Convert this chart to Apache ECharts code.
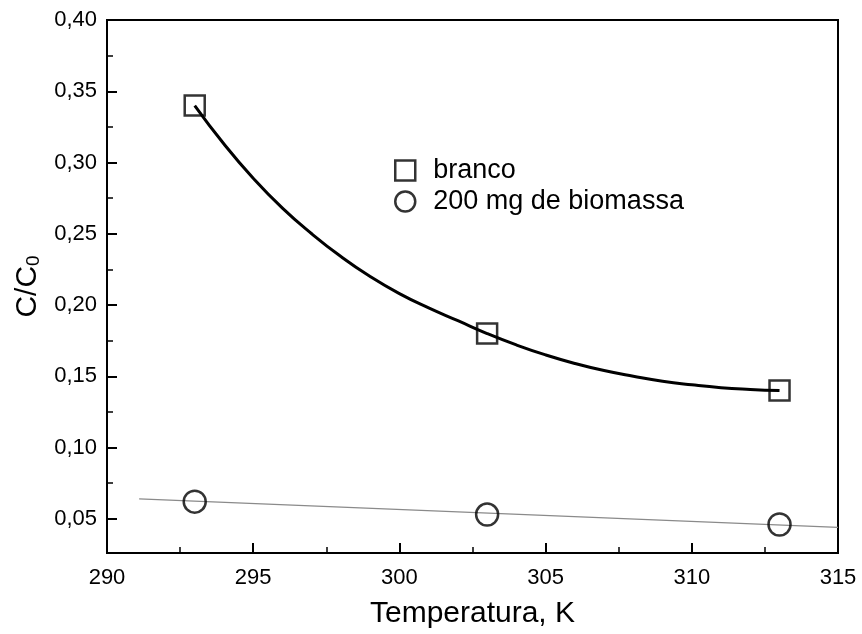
<!DOCTYPE html>
<html>
<head>
<meta charset="utf-8">
<script src="https://cdn.jsdelivr.net/npm/echarts@6/dist/echarts.min.js"></script>
<style>
html,body{margin:0;padding:0;background:#fff;}
#chart{width:862px;height:634px;}
</style>
</head>
<body>
<div id="chart"></div>
<script>
// Data
const temperatures = [293, 303, 313];
const brancoValues = [0.340, 0.180, 0.140];
const biomassaValues = [0.062, 0.053, 0.046];

// fitted curve for "branco"
const brancoFitX = [293, 294, 295, 296, 297, 298, 299, 300, 301, 302, 303, 304, 305, 306, 307, 308, 309, 310, 311, 312, 313];
const brancoFitY = [0.340, 0.313, 0.289, 0.268, 0.250, 0.234, 0.220, 0.208, 0.198, 0.189, 0.180, 0.172, 0.165, 0.159, 0.154, 0.150, 0.1465, 0.1440, 0.1420, 0.1408, 0.140];

// straight fit for biomassa
const biomassaFitX = [291.1, 315];
const biomassaFitY = [0.064, 0.044];

const yTickValues = [0.05, 0.10, 0.15, 0.20, 0.25, 0.30, 0.35, 0.40];
const yMinorTickValues = [0.075, 0.125, 0.175, 0.225, 0.275, 0.325, 0.375];

const seriesNames = ['branco', '200 mg de biomassa'];

const pairs = (xs, ys) => xs.map((x, i) => [x, ys[i]]);

const chart = echarts.init(document.getElementById('chart'));
const FONT = 'Liberation Sans, Arial, sans-serif';

chart.setOption({
  animation: false,
  backgroundColor: '#fff',
  textStyle: { fontFamily: FONT, color: '#000' },
  grid: { left: 107, right: 24, top: 20, bottom: 81, show: true, borderColor: '#000', borderWidth: 2 },
  legend: {
    orient: 'vertical',
    left: 389,
    top: 152,
    itemWidth: 20,
    itemHeight: 20,
    itemGap: 4,
    textStyle: { fontSize: 27, color: '#000', fontFamily: FONT, padding: [0, 0, 0, 13] },
    data: [
      { name: seriesNames[0], icon: 'rect', itemStyle: { color: 'transparent', borderColor: '#000', borderWidth: 2.5 } },
      { name: seriesNames[1], icon: 'circle', itemStyle: { color: 'transparent', borderColor: '#000', borderWidth: 2.5 } }
    ]
  },
  xAxis: {
    type: 'value',
    min: 290, max: 315, interval: 5,
    name: 'Temperatura, K',
    nameLocation: 'middle',
    nameGap: 46,
    nameTextStyle: { fontSize: 30, color: '#000', fontFamily: FONT },
    axisLine: { show: true, onZero: false, lineStyle: { color: '#000', width: 2 } },
    axisTick: { show: true, inside: true, length: 10, lineStyle: { color: '#000', width: 2 } },
    minorTick: { show: true, splitNumber: 2, length: 6, lineStyle: { color: '#000', width: 1.5 } },
    axisLabel: { fontSize: 22, color: '#000', margin: 14, fontFamily: FONT },
    splitLine: { show: false }
  },
  yAxis: [
    {
      type: 'value',
      min: 0.026, max: 0.40,
      name: 'C/C{sub|0}',
      nameLocation: 'middle',
      nameGap: 60,
      nameTextStyle: {
        fontSize: 30, color: '#000', fontFamily: FONT,
        rich: { sub: { fontSize: 19, verticalAlign: 'bottom', padding: [12, 0, 0, 0], fontFamily: FONT } }
      },
      axisLine: { show: true, onZero: false, lineStyle: { color: '#000', width: 2 } },
      axisTick: { show: true, inside: true, length: 10, customValues: yTickValues, lineStyle: { color: '#000', width: 2 } },
      axisLabel: {
        fontSize: 22, color: '#000', margin: 10, fontFamily: FONT,
        customValues: yTickValues,
        formatter: v => v.toFixed(2).replace('.', ',')
      },
      splitLine: { show: false }
    },
    {
      type: 'value',
      min: 0.026, max: 0.40,
      position: 'left',
      axisLine: { show: false },
      axisTick: { show: true, inside: true, length: 6, customValues: yMinorTickValues, lineStyle: { color: '#000', width: 1.5 } },
      axisLabel: { show: false },
      splitLine: { show: false }
    }
  ],
  series: [
    {
      name: 'fit branco',
      type: 'line',
      data: pairs(brancoFitX, brancoFitY),
      smooth: true,
      showSymbol: false,
      symbol: 'none',
      lineStyle: { color: '#000', width: 3 },
      silent: true,
      z: 2
    },
    {
      name: 'fit biomassa',
      type: 'line',
      data: pairs(biomassaFitX, biomassaFitY),
      showSymbol: false,
      symbol: 'none',
      lineStyle: { color: '#8a8a8a', width: 1.2 },
      silent: true,
      z: 2
    },
    {
      name: seriesNames[0],
      type: 'scatter',
      data: pairs(temperatures, brancoValues),
      symbol: 'rect',
      symbolSize: 20,
      itemStyle: { color: 'transparent', borderColor: '#000', borderWidth: 2.5 },
      z: 3
    },
    {
      name: seriesNames[1],
      type: 'scatter',
      data: pairs(temperatures, biomassaValues),
      symbol: 'circle',
      symbolSize: 22,
      itemStyle: { color: 'transparent', borderColor: '#000', borderWidth: 2.5 },
      z: 3
    }
  ]
});
</script>
</body>
</html>
